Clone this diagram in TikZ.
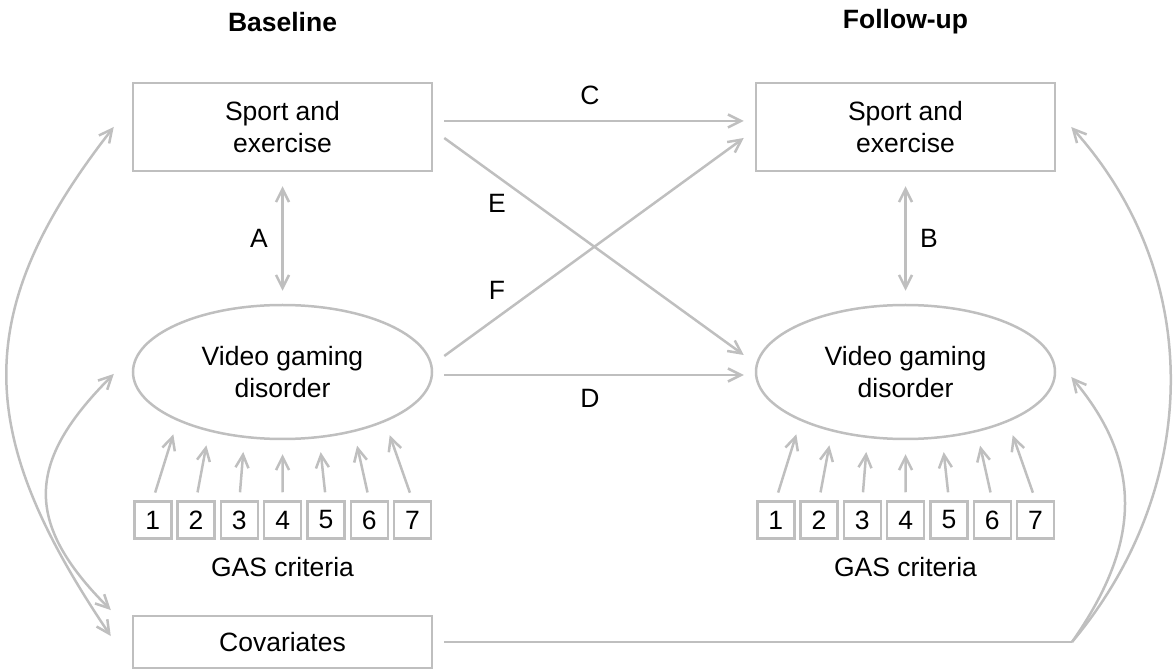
\documentclass[tikz,border=0pt]{standalone}
\usepackage{fontspec}
\setmainfont{Liberation Sans}
\usepackage{tikz}
\usetikzlibrary{arrows.meta, positioning, shapes.geometric}

\begin{document}
\begin{tikzpicture}[x=0.5pt, y=0.5pt]
		\tikzset{
			node distance=1.9pt and 1.9pt,
			every node/.style={font=\fontsize{13.25}{16}\selectfont},
			>={Straight Barb[length=6.5pt, width=6.5pt]},
			link/.style={draw=black!25, line width=1.25pt},
			box/.style={rectangle, draw=black!25, line width=1.25pt, align=center,
			minimum width=149.5pt, minimum height=44pt},
			latent/.style={ellipse, draw=black!25, line width=1.25pt, align=center,
			minimum width=149.5pt, minimum height=67pt, inner sep=0pt},
			crit/.style={rectangle, draw=black!25, line width=1.25pt,
			minimum width=18.5pt, minimum height=18.5pt, inner sep=0pt},
			head/.style={font=\fontsize{13.25}{16}\selectfont\bfseries}
		}
		\useasboundingbox (0,0) rectangle (1173,670);

		% baseline
		\node[head](base) at (282.5,648){Baseline};
		\node[box](sport1) at (282.5,543){Sport and\\exercise};
		\node[latent](vgd1) at (282.5,298){Video gaming\\disorder};
		\node[crit](l1) at (152.75,150){1};
		\node[crit, right=of l1](l2){2};
		\node[crit, right=of l2](l3){3};
		\node[crit, right=of l3](l4){4};
		\node[crit, right=of l4](l5){5};
		\node[crit, right=of l5](l6){6};
		\node[crit, right=of l6](l7){7};
		\node(gas1) at (282.5,103){GAS criteria};
		\node[box, minimum height=26pt](cov) at (282.5,28){Covariates};

		% follow-up
		\node[head](follow) at (905.5,648){Follow-up};
		\node[box](sport2) at (905.5,543){Sport and\\exercise};
		\node[latent](vgd2) at (905.5,298){Video gaming\\disorder};
		\node[crit](r1) at (775.75,150){1};
		\node[crit, right=of r1](r2){2};
		\node[crit, right=of r2](r3){3};
		\node[crit, right=of r3](r4){4};
		\node[crit, right=of r4](r5){5};
		\node[crit, right=of r5](r6){6};
		\node[crit, right=of r6](r7){7};
		\node(gas2) at (905.5,103){GAS criteria};

		% path labels
		\node(labA) at (259,432){A};
		\node(labB) at (929,432){B};
		\node(labC) at (590,575){C};
		\node(labD) at (590,272){D};
		\node(labE) at (497,467){E};
		\node(labF) at (497,380){F};

		\draw[link, <->, shorten <=7pt, shorten >=6.5pt](sport1) -- (vgd1);
		\draw[link, <->, shorten <=7pt, shorten >=6.5pt](sport2) -- (vgd2);
		\draw[link, ->]([shift={(5.5pt,3pt)}]sport1.east) -- ([shift={(-5.5pt,3pt)}]sport2.west);
		\draw[link, ->]([shift={(5.5pt,-1.5pt)}]vgd1.east) -- ([shift={(-5.5pt,-1.5pt)}]vgd2.west);
		\draw[link, ->]([shift={(5.5pt,-5.5pt)}]sport1.east) -- ([shift={(-5.5pt,8.5pt)}]vgd2.west);
		\draw[link, ->]([shift={(5.5pt,8pt)}]vgd1.east) -- ([shift={(-5.5pt,-5.5pt)}]sport2.west);

		\draw[link, ->, shorten <=4pt, shorten >=7pt](l1.north) -- (vgd1.205.7);
		\draw[link, ->, shorten <=4pt, shorten >=7pt](l2.north) -- (vgd1.219.6);
		\draw[link, ->, shorten <=4pt, shorten >=7pt](l3.north) -- (vgd1.240.8);
		\draw[link, ->, shorten <=4pt, shorten >=7pt](l4.north) -- (vgd1.270);
		\draw[link, ->, shorten <=4pt, shorten >=7pt](l5.north) -- (vgd1.299.2);
		\draw[link, ->, shorten <=4pt, shorten >=7pt](l6.north) -- (vgd1.320.4);
		\draw[link, ->, shorten <=4pt, shorten >=7pt](l7.north) -- (vgd1.334.3);
		\draw[link, ->, shorten <=4pt, shorten >=7pt](r1.north) -- (vgd2.205.7);
		\draw[link, ->, shorten <=4pt, shorten >=7pt](r2.north) -- (vgd2.219.6);
		\draw[link, ->, shorten <=4pt, shorten >=7pt](r3.north) -- (vgd2.240.8);
		\draw[link, ->, shorten <=4pt, shorten >=7pt](r4.north) -- (vgd2.270);
		\draw[link, ->, shorten <=4pt, shorten >=7pt](r5.north) -- (vgd2.299.2);
		\draw[link, ->, shorten <=4pt, shorten >=7pt](r6.north) -- (vgd2.320.4);
		\draw[link, ->, shorten <=4pt, shorten >=7pt](r7.north) -- (vgd2.334.3);

		% covariances on the left
		\draw[link, <->]([xshift=-9pt]sport1.west) to[out=232, in=124, looseness=1.2] ([shift={(-10.5pt,3pt)}]cov.west);
		\draw[link, <->]([shift={(-9pt,-1pt)}]vgd1.west) to[out=225, in=135, looseness=1.34] ([shift={(-10.5pt,16pt)}]cov.west);

		% covariates to follow-up
		\coordinate(join) at (1072,28);
		\draw[link]([xshift=5.5pt]cov.east) -- (join);
		\draw[link, ->](join) to[out=50, in=312] ([xshift=7.5pt]sport2.east);
		\draw[link, ->](join) to[out=55, in=310, looseness=1.12] ([shift={(7.5pt,-2.5pt)}]vgd2.east);
	\end{tikzpicture}
\end{document}
